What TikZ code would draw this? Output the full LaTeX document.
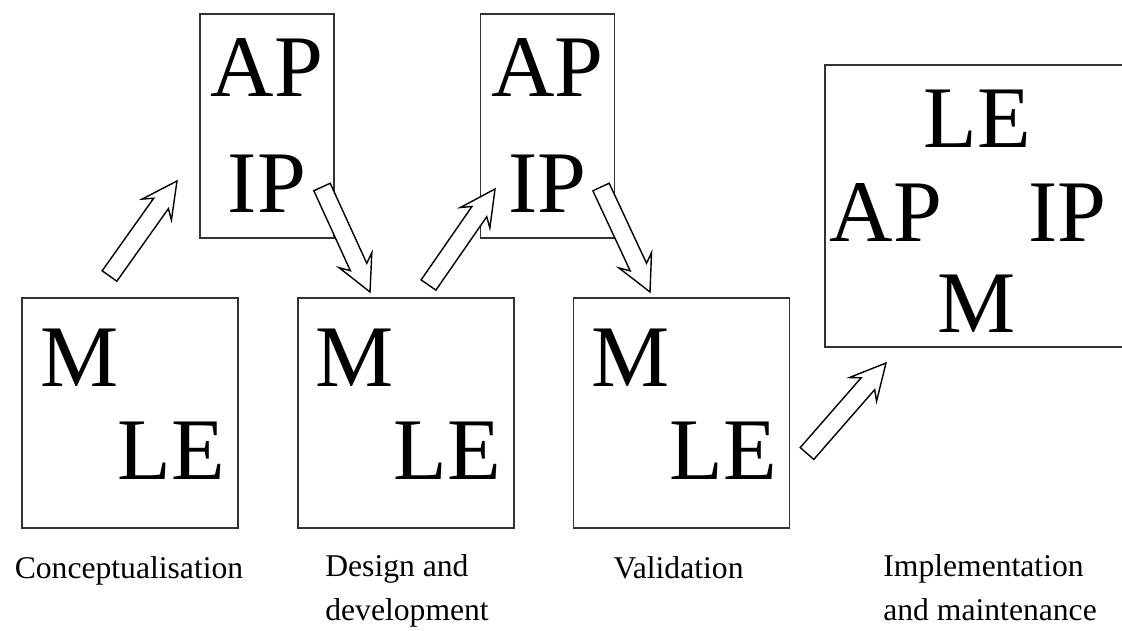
\documentclass[tikz,border=0pt]{standalone}
\usepackage{fontspec}
\setmainfont{Liberation Serif}
\usetikzlibrary{positioning, calc}

% hollow block arrow from tail (#1) to tip (#2)
\newcommand{\blockarrow}[2]{%
	\coordinate (hb) at ($(#2)!0.55cm!(#1)$);
	\coordinate (bb) at ($(#2)!0.70cm!(#1)$);
	\draw[hollow] ($(#1)!0.18cm!90:(#2)$) -- ($(hb)!0.18cm!-90:(#1)$) -- ($(bb)!0.36cm!-90:(#1)$) -- (#2)
		-- ($(bb)!0.36cm!90:(#1)$) -- ($(hb)!0.18cm!90:(#1)$) -- ($(#1)!0.18cm!-90:(#2)$) -- cycle;
}

\begin{document}
\begin{tikzpicture}[
		node distance=10mm and 11.6mm,
		stage/.style  ={draw=black!80, line width=1pt, inner sep=0pt, minimum width=43.2mm, minimum height=46mm},
		upper/.style  ={draw=black!80, line width=1pt, inner sep=0pt, minimum width=26.8mm, minimum height=44.8mm},
		whole/.style  ={draw=black!80, line width=1pt, inner sep=0pt, minimum width=61mm, minimum height=56.4mm},
		letter/.style ={anchor=base, inner sep=0pt, font=\fontsize{50}{60}\selectfont},
		caption/.style={anchor=base west, inner sep=0pt, align=left, font=\fontsize{18}{24.5}\selectfont},
		hollow/.style ={draw=black, fill=white, line width=0.8pt, line join=miter}
		]
		\path[use as bounding box, clip] (0,0) rectangle (22.44,12.6);
		
		% --- Bottom row: M / LE ---
		\node[stage] (mle1) at (2.60,4.34) {};
		\node[stage, right=of mle1] (mle2) {};
		\node[stage, right=of mle2] (mle3) {};
		
		\node[letter] (m1)  at ($(mle1.north west)+(1.16,-1.78)$) {M};
		\node[letter] (le1) at ($(mle1.north west)+(3.01,-3.64)$) {LE};
		\node[letter] (m2)  at ($(mle2.north west)+(1.16,-1.78)$) {M};
		\node[letter] (le2) at ($(mle2.north west)+(3.01,-3.64)$) {LE};
		\node[letter] (m3)  at ($(mle3.north west)+(1.16,-1.78)$) {M};
		\node[letter] (le3) at ($(mle3.north west)+(3.01,-3.64)$) {LE};
		
		% --- Top row: AP / IP ---
		\node[upper] (apip1) at (5.34,10.08) {};
		\node[upper] (apip2) at (10.95,10.08) {};
		
		\node[letter] (ap1) at ($(apip1.north)+(0,-1.66)$) {AP};
		\node[letter] (ip1) at ($(apip1.north)+(0,-3.98)$) {IP};
		\node[letter] (ap2) at ($(apip2.north)+(0,-1.66)$) {AP};
		\node[letter] (ip2) at ($(apip2.north)+(0,-3.98)$) {IP};
		
		% --- Right: everything together ---
		\node[whole] (all) at (19.55,8.48) {};
		
		\node[letter] (le4) at ($(all.north west)+(3.07,-1.66)$) {LE};
		\node[letter] (ap4) at ($(all.north west)+(1.24,-3.54)$) {AP};
		\node[letter] (ip4) at ($(all.north west)+(4.87,-3.54)$) {IP};
		\node[letter] (m4)  at ($(all.north west)+(3.05,-5.36)$) {M};
		
		% --- Block arrows ---
		\coordinate (t1) at (2.19,7.08);   \coordinate (h1) at (3.54,8.98);
		\coordinate (t2) at (6.44,8.86);   \coordinate (h2) at (7.40,6.76);
		\coordinate (t3) at (8.57,6.90);   \coordinate (h3) at (9.90,8.82);
		\coordinate (t4) at (12.02,8.86);  \coordinate (h4) at (13.00,6.76);
		\coordinate (t5) at (16.14,3.53);  \coordinate (h5) at (17.72,5.34);
		
		\blockarrow{t1}{h1}
		\blockarrow{t2}{h2}
		\blockarrow{t3}{h3}
		\blockarrow{t4}{h4}
		\blockarrow{t5}{h5}
		
		% --- Stage names (base = last line) ---
		\node[caption, anchor=base] (concept) at (2.58,1.04) {Conceptualisation};
		\node[caption] (design)  at (6.50,0.20) {Design and\\development};
		\node[caption, anchor=base] (valid) at (13.57,1.04) {Validation};
		\node[caption] (implem)  at (17.66,0.20) {Implementation\\and maintenance};
		
	\end{tikzpicture}
\end{document}
